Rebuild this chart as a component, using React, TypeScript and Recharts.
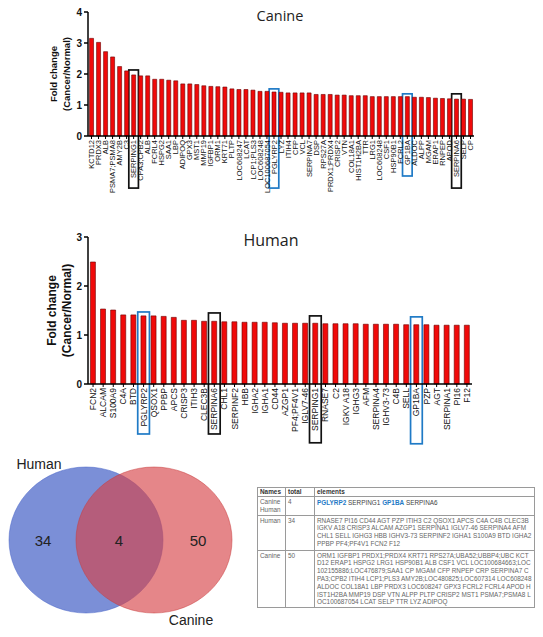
import React from 'react';
import { BarChart, Bar, XAxis, YAxis, ReferenceArea, Label, ScatterChart, Scatter } from 'recharts';

const canineGenes = [
  'KCTD12', 'PRDX3', 'ALB', 'PSMA7;PSMA8', 'AMY2B', 'C3', 'SERPING1', 'CPA3;CPB2', 'ALB', 'FCRL4',
  'HSPG2', 'SAA1', 'LBP', 'ADIPOQ', 'GPX3', 'MST1', 'MMP19', 'IGFBP1', 'ORM1', 'KRT71',
  'PLTP', 'LOC608247', 'LCAT', 'LCP1;PLS3', 'LOC608248', 'LOC100687054', 'PGLYRP2', 'LYZ', 'ITIH4', 'CFP',
  'VCL', 'SERPINA7', 'DSP', 'RPS27A', 'PRDX1;PRDX4', 'CRISP2', 'VTN', 'COL18A1', 'HIST1H2BA', 'TTR',
  'LRG1', 'LOC608248', 'CSF1', 'HSP90B1', 'FCRL2', 'GP1BA', 'ALDOC', 'ALPP', 'MGAM', 'ERAP1',
  'RNPEP', 'APOD', 'SERPINA6', 'SELP', 'CP',
];
const canineFold = [
  3.15, 3.02, 2.72, 2.55, 2.24, 2.1, 1.97, 1.94, 1.94, 1.83,
  1.83, 1.8, 1.78, 1.68, 1.68, 1.66, 1.62, 1.6, 1.59, 1.58,
  1.52, 1.5, 1.5, 1.48, 1.44, 1.44, 1.42, 1.41, 1.39, 1.39,
  1.39, 1.39, 1.34, 1.34, 1.34, 1.32, 1.32, 1.3, 1.3, 1.3,
  1.27, 1.27, 1.27, 1.27, 1.27, 1.27, 1.25, 1.25, 1.24, 1.22,
  1.21, 1.2, 1.19, 1.19, 1.18,
];
const canineTicks = [0, 1, 2, 3, 4];

const humanGenes = [
  'FCN2', 'ALCAM', 'S100A9', 'C4A', 'BTD', 'PGLYRP2', 'QSOX1', 'PPBP', 'APCS', 'CRISP3',
  'ITIH3', 'CLEC3B', 'SERPINA6', 'CHL1', 'SERPINF2', 'HBB', 'IGHA2', 'IGHA1', 'CD44', 'AZGP1',
  'PF4;PF4V1', 'IGLV7-46', 'SERPING1', 'RNASE7', 'C2', 'IGKV A18', 'IGHG3', 'AFM', 'SERPINA4', 'IGHV3-73',
  'C4B', 'SELL', 'GP1BA', 'PZP', 'AGT', 'SERPINA1', 'PI16', 'F12',
];
const humanFold = [
  2.49, 1.53, 1.51, 1.41, 1.41, 1.39, 1.39, 1.38, 1.36, 1.3,
  1.3, 1.28, 1.28, 1.27, 1.27, 1.26, 1.26, 1.26, 1.25, 1.24,
  1.24, 1.24, 1.24, 1.23, 1.23, 1.23, 1.23, 1.22, 1.22, 1.22,
  1.22, 1.21, 1.21, 1.21, 1.2, 1.2, 1.2, 1.2,
];
const humanTicks = [0, 1, 2, 3];

const vennSets = ['Human', 'Canine'];
const vennCounts = [34, 4, 50];

const sharedGenes = ['PGLYRP2', 'SERPING1', 'GP1BA', 'SERPINA6'];
const humanOnly = 'RNASE7 PI16 CD44 AGT PZP ITIH3 C2 QSOX1 APCS C4A C4B CLEC3B IGKV A18 CRISP3 ALCAM AZGP1 SERPINA1 IGLV7-46 SERPINA4 AFM CHL1 SELL IGHG3 HBB IGHV3-73 SERPINF2 IGHA1 S100A9 BTD IGHA2 PPBP PF4;PF4V1 FCN2 F12';
const canineOnly = 'ORM1 IGFBP1 PRDX1;PRDX4 KRT71 RPS27A;UBA52;UBBP4;UBC KCTD12 ERAP1 HSPG2 LRG1 HSP90B1 ALB CSF1 VCL LOC100684663;LOC102155886;LOC476879;SAA1 CP MGAM CFP RNPEP CRP SERPINA7 CPA3;CPB2 ITIH4 LCP1;PLS3 AMY2B;LOC480825;LOC607314 LOC608248 ALDOC COL18A1 LBP PRDX3 LOC608247 GPX3 FCRL2 FCRL4 APOD HIST1H2BA MMP19 DSP VTN ALPP PLTP CRISP2 MST1 PSMA7;PSMA8 LOC100687054 LCAT SELP TTR LYZ ADIPOQ';
const blueGenes = ['PGLYRP2', 'GP1BA'];

const canineData = canineGenes.map((g, i) => ({ idx: i, gene: g, fold: canineFold[i] }));
const humanData = humanGenes.map((g, i) => ({ idx: i, gene: g, fold: humanFold[i] }));

const FONT = '"Liberation Sans", Arial, sans-serif';
const BLUE = '#1f7ac6';
const BLACK = '#111';

const GeneTick = (props: any) => {
  const { x, y, payload, labels, fontSize } = props;
  return (
    <g transform={`translate(${x},${y})`}>
      <text transform="rotate(-90)" textAnchor="end" dy="0.35em" fontSize={fontSize} fontFamily={FONT} fill="#111">
        {labels[payload.value]}
      </text>
    </g>
  );
};

const YLabel = (props: any) => {
  const { viewBox, fontSize, x1, x2 } = props;
  const cy = viewBox.y + viewBox.height / 2;
  return (
    <g>
      <text x={x1} y={cy} transform={`rotate(-90, ${x1}, ${cy})`} textAnchor="middle" dominantBaseline="central" fontSize={fontSize} fontWeight="bold" fontFamily={FONT} fill="#111">Fold change</text>
      <text x={x2} y={cy} transform={`rotate(-90, ${x2}, ${cy})`} textAnchor="middle" dominantBaseline="central" fontSize={fontSize} fontWeight="bold" fontFamily={FONT} fill="#111">(Cancer/Normal)</text>
    </g>
  );
};

const boxStyle = (color: string, pad: number) => ({
  ifOverflow: 'visible' as const,
  shape: (p: any) => (
    <rect x={p.x - pad} y={p.y} width={p.width + 2 * pad} height={p.height} fill="none" stroke={color} strokeWidth={1.7} />
  ),
});

const cell: React.CSSProperties = { border: '1px solid #9a9a9a', padding: '1px 2px', verticalAlign: 'top', wordBreak: 'break-all' };

export default function App() {
  const ci = (g: string) => canineGenes.indexOf(g);
  const hi = (g: string) => humanGenes.indexOf(g);
  return (
    <div style={{ position: 'absolute', left: 0, top: 0, width: 543, height: 637, background: '#fff', fontFamily: FONT, overflow: 'hidden' }}>
      {/* Canine */}
      <div style={{ position: 'absolute', left: 0, top: 0 }}>
        <BarChart width={543} height={200} data={canineData} margin={{ top: 12, right: 69, bottom: 0, left: 0 }} barCategoryGap="22%">
          <XAxis dataKey="idx" type="category" interval={0} height={64} tickSize={3} tickMargin={1}
            axisLine={{ stroke: '#000', strokeWidth: 1.5 }} tickLine={{ stroke: '#000' }}
            tick={<GeneTick labels={canineGenes} fontSize={7.5} />} />
          <YAxis domain={[0, 4]} ticks={canineTicks} width={88} tickSize={4} tickMargin={2}
            axisLine={{ stroke: '#000', strokeWidth: 1.5 }} tickLine={{ stroke: '#000', strokeWidth: 1.5 }}
            tick={{ fontSize: 10, fontWeight: 'bold', fill: '#111', fontFamily: FONT }} interval={0}>
            <Label content={<YLabel fontSize={9.5} x1={53} x2={66} />} />
          </YAxis>
          <Bar dataKey="fold" fill="#f00a0a" stroke="#6a0000" strokeWidth={0.6} isAnimationActive={false} />
          <ReferenceArea x1={ci('SERPING1')} x2={ci('SERPING1')} y1={-1.68} y2={2.13} {...boxStyle(BLACK, 1.3)} />
          <ReferenceArea x1={ci('PGLYRP2')} x2={ci('PGLYRP2')} y1={-1.68} y2={1.52} {...boxStyle(BLUE, 1.3)} />
          <ReferenceArea x1={ci('GP1BA')} x2={ci('GP1BA')} y1={-1.29} y2={1.36} {...boxStyle(BLUE, 1.3)} />
          <ReferenceArea x1={ci('SERPINA6')} x2={ci('SERPINA6')} y1={-1.68} y2={1.36} {...boxStyle(BLACK, 1.3)} />
        </BarChart>
      </div>
      <div style={{ position: 'absolute', left: 230, top: 6, width: 100, textAlign: 'center', fontSize: 14.5, fontFamily: '"Open Sans", sans-serif', color: '#222', lineHeight: '20px' }}>Canine</div>

      {/* Human */}
      <div style={{ position: 'absolute', left: 0, top: 200 }}>
        <BarChart width={543} height={250} data={humanData} margin={{ top: 37, right: 71, bottom: 0, left: 0 }} barCategoryGap="24%">
          <XAxis dataKey="idx" type="category" interval={0} height={66} tickSize={3} tickMargin={1}
            axisLine={{ stroke: '#000', strokeWidth: 1.5 }} tickLine={{ stroke: '#000' }}
            tick={<GeneTick labels={humanGenes} fontSize={8.5} />} />
          <YAxis domain={[0, 3]} ticks={humanTicks} width={88} tickSize={4} tickMargin={2}
            axisLine={{ stroke: '#000', strokeWidth: 1.5 }} tickLine={{ stroke: '#000', strokeWidth: 1.5 }}
            tick={{ fontSize: 10, fontWeight: 'bold', fill: '#111', fontFamily: FONT }} interval={0}>
            <Label content={<YLabel fontSize={12} x1={52} x2={67} />} />
          </YAxis>
          <Bar dataKey="fold" fill="#f00a0a" stroke="#6a0000" strokeWidth={0.6} isAnimationActive={false} />
          <ReferenceArea x1={hi('PGLYRP2')} x2={hi('PGLYRP2')} y1={-1.02} y2={1.47} {...boxStyle(BLUE, 0.8)} />
          <ReferenceArea x1={hi('SERPINA6')} x2={hi('SERPINA6')} y1={-1.02} y2={1.45} {...boxStyle(BLACK, 0.8)} />
          <ReferenceArea x1={hi('SERPING1')} x2={hi('SERPING1')} y1={-1.2} y2={1.39} {...boxStyle(BLACK, 0.8)} />
          <ReferenceArea x1={hi('GP1BA')} x2={hi('GP1BA')} y1={-1.22} y2={1.37} {...boxStyle(BLUE, 0.8)} />
        </BarChart>
      </div>
      <div style={{ position: 'absolute', left: 221, top: 229, width: 100, textAlign: 'center', fontSize: 16, fontFamily: '"Open Sans", sans-serif', color: '#222', lineHeight: '22px' }}>Human</div>

      {/* Venn */}
      <div style={{ position: 'absolute', left: 0, top: 440 }}>
        <ScatterChart width={250} height={197} margin={{ top: 0, right: 0, bottom: 0, left: 0 }}>
          <XAxis type="number" dataKey="x" domain={[0, 250]} hide />
          <YAxis type="number" dataKey="y" domain={[0, 197]} reversed hide />
          <Scatter data={[{ x: 86, y: 100, set: vennSets[0] }]} isAnimationActive={false}
            shape={(p: any) => <ellipse cx={p.cx} cy={p.cy} rx={77} ry={73} fill="rgba(72,100,200,0.72)" stroke="rgba(72,100,200,0.5)" />} />
          <Scatter data={[{ x: 154, y: 100, set: vennSets[1] }]} isAnimationActive={false}
            shape={(p: any) => <ellipse cx={p.cx} cy={p.cy} rx={78} ry={73} fill="rgba(214,66,70,0.64)" stroke="rgba(200,60,60,0.5)" />} />
          <Scatter data={[{ x: 43, y: 100, n: vennCounts[0] }, { x: 119, y: 100, n: vennCounts[1] }, { x: 198, y: 100, n: vennCounts[2] }]} isAnimationActive={false}
            shape={(p: any) => <text x={p.cx} y={p.cy} textAnchor="middle" dominantBaseline="central" fontSize={15} fontFamily={FONT} fill="#222">{p.payload.n}</text>} />
          <Scatter data={[{ x: 39, y: 24, t: vennSets[0] }, { x: 191, y: 180, t: vennSets[1] }]} isAnimationActive={false}
            shape={(p: any) => <text x={p.cx} y={p.cy} textAnchor="middle" dominantBaseline="central" fontSize={14} fontFamily={FONT} fill="#222">{p.payload.t}</text>} />
        </ScatterChart>
      </div>

      {/* Table */}
      <table style={{ position: 'absolute', left: 257, top: 487, width: 278, borderCollapse: 'collapse', fontSize: 6.4, lineHeight: '7.8px', color: '#666', fontFamily: FONT, tableLayout: 'fixed' }}>
        <colgroup>
          <col style={{ width: 28 }} />
          <col style={{ width: 29 }} />
          <col />
        </colgroup>
        <tbody>
          <tr style={{ height: 9 }}>
            <td style={{ ...cell, padding: '0 2px', fontWeight: 'bold', color: '#333' }}>Names</td>
            <td style={{ ...cell, padding: '0 2px', fontWeight: 'bold', color: '#333' }}>total</td>
            <td style={{ ...cell, padding: '0 2px', fontWeight: 'bold', color: '#333' }}>elements</td>
          </tr>
          <tr style={{ height: 17 }}>
            <td style={cell}>Canine Human</td>
            <td style={cell}>{vennCounts[1]}</td>
            <td style={{ ...cell, paddingTop: 2 }}>
              {sharedGenes.map((g, i) => (
                <React.Fragment key={g}>
                  {blueGenes.includes(g)
                    ? <b style={{ color: BLUE }}>{g}</b>
                    : <span style={{ color: '#444' }}>{g}</span>}
                  {i < sharedGenes.length - 1 ? ' ' : ''}
                </React.Fragment>
              ))}
            </td>
          </tr>
          <tr style={{ height: 35 }}>
            <td style={cell}>Human</td>
            <td style={cell}>{vennCounts[0]}</td>
            <td style={cell}>{humanOnly}</td>
          </tr>
          <tr style={{ height: 56 }}>
            <td style={cell}>Canine</td>
            <td style={cell}>{vennCounts[2]}</td>
            <td style={cell}>{canineOnly}</td>
          </tr>
        </tbody>
      </table>
    </div>
  );
}
